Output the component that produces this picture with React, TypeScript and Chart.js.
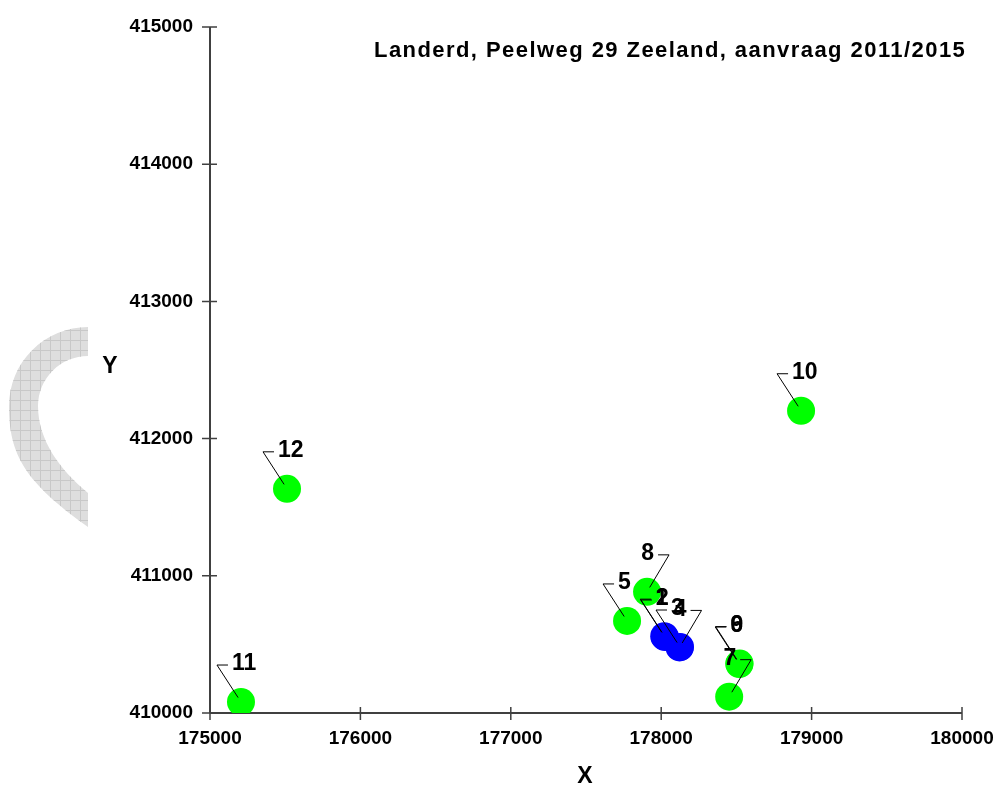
import React, { useEffect, useRef } from 'react';
import { Chart, registerables } from 'chart.js';

Chart.register(...registerables);

const TITLE = 'Landerd, Peelweg 29 Zeeland, aanvraag 2011/2015';
const X_AXIS_TITLE = 'X';
const Y_AXIS_TITLE = 'Y';
const X_TICKS = [175000, 176000, 177000, 178000, 179000, 180000];
const Y_TICKS = [410000, 411000, 412000, 413000, 414000, 415000];

const BLUE_IDS = ['1', '2', '3', '4'];
const BLUE_X = [178020, 178025, 178125, 178122];
const BLUE_Y = [410560, 410554, 410481, 410478];

const GREEN_IDS = ['5', '6', '7', '8', '9', '10', '11', '12'];
const GREEN_X = [177773, 178519, 178452, 177906, 178521, 178930, 175206, 175512];
const GREEN_Y = [410671, 410357, 410119, 410883, 410360, 412203, 410080, 411634];

// ids whose label sits to the upper right of the point (others: upper left)
const LABEL_RIGHT_IDS = ['4', '7', '8'];

const FONT = '"Liberation Sans", Arial, sans-serif';

const decorPlugin = {
  id: 'decor',
  beforeDraw(chart: any) {
    const ctx = chart.ctx as CanvasRenderingContext2D;
    ctx.save();
    // grey hatched crescent at left
    ctx.beginPath();
    ctx.moveTo(88, 327);
    ctx.arc(88, 406, 79, -Math.PI / 2, Math.PI, true);
    ctx.bezierCurveTo(9, 455, 25, 482, 88, 527);
    ctx.lineTo(88, 493);
    ctx.bezierCurveTo(60, 470, 38, 440, 38, 406);
    ctx.arc(88, 406, 50, Math.PI, -Math.PI / 2, false);
    ctx.closePath();
    ctx.fillStyle = '#dedede';
    ctx.fill();
    ctx.clip();
    ctx.strokeStyle = '#c8c8c8';
    ctx.lineWidth = 1;
    ctx.beginPath();
    for (let x = 0.5; x < 100; x += 10) {
      ctx.moveTo(x, 320);
      ctx.lineTo(x, 535);
    }
    for (let y = 320.5; y < 535; y += 10) {
      ctx.moveTo(0, y);
      ctx.lineTo(100, y);
    }
    ctx.stroke();
    ctx.restore();

    // axes with crossing tick marks
    const xs = chart.scales.x;
    const ys = chart.scales.y;
    const area = chart.chartArea;
    ctx.save();
    ctx.strokeStyle = '#404040';
    ctx.lineWidth = 2;
    ctx.beginPath();
    ctx.moveTo(area.left, area.top);
    ctx.lineTo(area.left, area.bottom);
    ctx.moveTo(area.left, area.bottom);
    ctx.lineTo(area.right, area.bottom);
    ctx.stroke();
    ctx.lineWidth = 1.5;
    ctx.beginPath();
    X_TICKS.forEach((v) => {
      const px = xs.getPixelForValue(v);
      ctx.moveTo(px, area.bottom - 6);
      ctx.lineTo(px, area.bottom + 7);
    });
    Y_TICKS.forEach((v) => {
      const py = ys.getPixelForValue(v);
      ctx.moveTo(area.left - 8, py);
      ctx.lineTo(area.left + 7, py);
    });
    ctx.stroke();
    ctx.restore();

    // title and axis titles
    ctx.save();
    ctx.fillStyle = '#000';
    ctx.font = 'bold 22px ' + FONT;
    const plain = ctx.measureText(TITLE).width;
    const spacing = Math.max(0, (591 - plain) / (TITLE.length - 1));
    (ctx as any).letterSpacing = spacing.toFixed(2) + 'px';
    ctx.textAlign = 'left';
    ctx.textBaseline = 'alphabetic';
    ctx.fillText(TITLE, 374, 57);
    (ctx as any).letterSpacing = '0px';
    ctx.textAlign = 'center';
    ctx.textBaseline = 'middle';
    ctx.font = 'bold 23px ' + FONT;
    ctx.fillText(X_AXIS_TITLE, 585, 777);
    ctx.fillText(Y_AXIS_TITLE, 110, 367);
    ctx.restore();
  },
  afterDatasetsDraw(chart: any) {
    const ctx = chart.ctx as CanvasRenderingContext2D;
    ctx.save();
    ctx.strokeStyle = '#000';
    ctx.fillStyle = '#000';
    ctx.lineWidth = 1;
    ctx.font = 'bold 23px ' + FONT;
    ctx.textBaseline = 'middle';
    chart.data.datasets.forEach((ds: any, di: number) => {
      const meta = chart.getDatasetMeta(di);
      meta.data.forEach((el: any, i: number) => {
        const id = ds.ids[i];
        const right = LABEL_RIGHT_IDS.includes(id);
        const cx = el.x;
        const cy = el.y;
        const kx = right ? cx + 22 : cx - 24;
        const ky = cy - 37;
        ctx.beginPath();
        ctx.moveTo(kx, ky);
        ctx.lineTo(cx + (kx - cx) * 0.12, cy + (ky - cy) * 0.12);
        ctx.moveTo(kx, ky);
        ctx.lineTo(right ? kx - 11 : kx + 11, ky);
        ctx.stroke();
        ctx.textAlign = right ? 'right' : 'left';
        ctx.fillText(id, right ? kx - 15 : kx + 15, ky - 1);
      });
    });
    ctx.restore();
  },
};

export default function App() {
  const ref = useRef<HTMLCanvasElement>(null);
  useEffect(() => {
    const tickFont = { family: FONT, size: 19, weight: 'bold' as const };
    const chart = new Chart(ref.current!, {
      type: 'scatter',
      data: {
        datasets: [
          {
            ids: BLUE_IDS,
            data: BLUE_X.map((x, i) => ({ x, y: BLUE_Y[i] })),
            backgroundColor: '#0000ff',
            borderWidth: 0,
            pointRadius: 14,
          } as any,
          {
            ids: GREEN_IDS,
            data: GREEN_X.map((x, i) => ({ x, y: GREEN_Y[i] })),
            backgroundColor: '#00ff00',
            borderWidth: 0,
            pointRadius: 14,
          } as any,
        ],
      },
      options: {
        responsive: false,
        animation: false,
        devicePixelRatio: 1,
        layout: { padding: { top: 27, right: 35, left: 0, bottom: 0 } },
        plugins: {
          legend: { display: false },
          tooltip: { enabled: false },
          title: { display: false },
        },
        scales: {
          x: {
            type: 'linear',
            min: 175000,
            max: 180000,
            afterBuildTicks: (s: any) => {
              s.ticks = X_TICKS.map((v) => ({ value: v }));
            },
            afterFit: (s: any) => {
              s.height = 75;
              s.paddingLeft = 0;
              s.paddingRight = 0;
            },
            grid: { display: false, drawTicks: false },
            border: { display: false },
            ticks: {
              font: tickFont,
              color: '#000',
              padding: 14,
              maxRotation: 0,
              autoSkip: false,
              callback: (v: any) => String(v),
            },
          },
          y: {
            type: 'linear',
            min: 410000,
            max: 415000,
            afterBuildTicks: (s: any) => {
              s.ticks = Y_TICKS.map((v) => ({ value: v }));
            },
            afterFit: (s: any) => {
              s.width = 210;
              s.paddingTop = 0;
              s.paddingBottom = 0;
            },
            grid: { display: false, drawTicks: false },
            border: { display: false },
            ticks: {
              font: tickFont,
              color: '#000',
              padding: 17,
              autoSkip: false,
              callback: (v: any) => String(v),
            },
          },
        },
      },
      plugins: [decorPlugin],
    } as any);
    return () => chart.destroy();
  }, []);
  return (
    <div style={{ position: 'absolute', left: 0, top: 0, width: 997, height: 788, background: '#fff' }}>
      <canvas ref={ref} width={997} height={788} style={{ display: 'block', width: 997, height: 788 }} />
    </div>
  );
}
